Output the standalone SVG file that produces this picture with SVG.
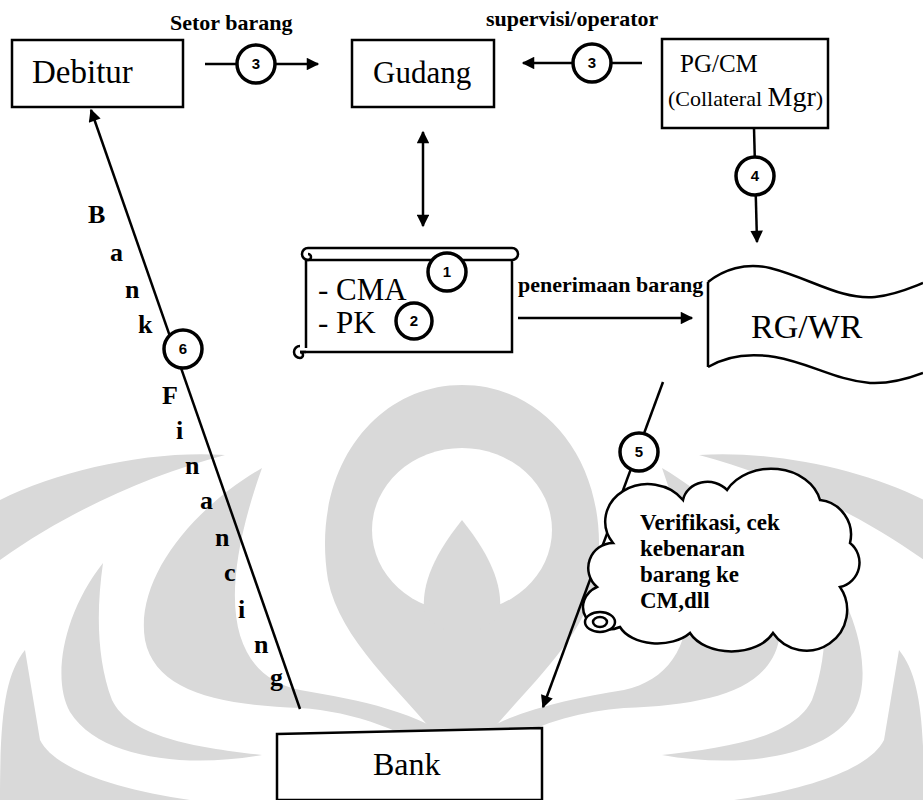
<svg xmlns="http://www.w3.org/2000/svg" width="923" height="800" viewBox="0 0 923 800">
<defs>
<marker id="ah" viewBox="0 0 10 10" refX="9" refY="5" markerWidth="5.5" markerHeight="5" orient="auto-start-reverse" markerUnits="strokeWidth">
<path d="M0,0 L10,5 L0,10 Z" fill="#000"/>
</marker>
<style>
.box{fill:#fff;stroke:#000;stroke-width:2.5}
.ln{fill:none;stroke:#000;stroke-width:2.5}
.circ{fill:#fff;stroke:#000;stroke-width:3.5}
.num{font-family:"Liberation Sans",Arial,sans-serif;font-weight:bold;font-size:15px;text-anchor:middle}
.lbl{font-family:"Liberation Serif","Times New Roman",serif;font-weight:bold}
.big{font-family:"Liberation Serif","Times New Roman",serif}
.let{font-family:"Liberation Serif","Times New Roman",serif;font-weight:bold;font-size:26px}
.wm{fill:#d9d9d9;stroke:none}
</style>
</defs>
<rect width="923" height="800" fill="#fff"/>
<g id="watermark">
<g id="wm-left">
<path class="wm" d="M262 468 C190 510 135 580 145 640 C155 690 215 705 300 708 C360 712 420 735 462 775 L462 745 C420 712 360 700 300 690 C230 675 215 600 262 468 Z"/>
<path class="wm" d="M103 563 C62 615 52 680 70 712 C100 760 190 768 262 755 C200 748 130 738 112 700 C97 660 96 612 103 563 Z"/>
<path class="wm" d="M25 650 C5 675 0 715 0 800 L190 800 C120 790 55 770 40 740 Z"/>
<path class="wm" d="M0 500 C60 470 150 450 225 455 C150 475 70 510 0 560 Z"/>
</g>
<use href="#wm-left" transform="translate(924,0) scale(-1,1)"/>
<path class="wm" d="M462 385 C375 385 310 470 328 580 C340 640 400 690 440 740 L462 770 L484 740 C524 690 584 640 596 580 C614 470 549 385 462 385 Z"/>
<ellipse cx="462" cy="530" rx="90" ry="82" fill="#fff"/>
<path class="wm" d="M462 520 C430 560 420 590 425 618 L462 640 L499 618 C504 590 494 560 462 520 Z"/>
</g>

<g id="connectors">
<line class="ln" x1="205" y1="64" x2="318" y2="64" marker-end="url(#ah)"/>
<line class="ln" x1="642" y1="63" x2="523" y2="63" marker-end="url(#ah)"/>
<line class="ln" x1="754" y1="128" x2="757" y2="242" marker-end="url(#ah)"/>
<line class="ln" x1="423" y1="132" x2="423" y2="226" marker-start="url(#ah)" marker-end="url(#ah)"/>
<line class="ln" x1="518" y1="318" x2="692" y2="318" marker-end="url(#ah)"/>
<line class="ln" x1="663" y1="382" x2="543" y2="707" marker-end="url(#ah)"/>
<line class="ln" x1="300" y1="709" x2="91" y2="110" marker-end="url(#ah)"/>
</g>

<g id="debitur">
<rect class="box" x="12" y="40" width="171" height="67"/>
<text class="big" x="32" y="83" style="font-size:33px">Debitur</text>
</g>
<g id="gudang">
<rect class="box" x="352" y="40" width="142" height="67"/>
<text class="big" x="373" y="83" style="font-size:31px">Gudang</text>
</g>
<g id="pgcm">
<rect class="box" x="662" y="39" width="166" height="89"/>
<text class="big" x="680" y="72" style="font-size:25px">PG/CM</text>
<text class="big" x="668" y="106" style="font-size:22px">(Collateral <tspan style="font-size:28px">Mgr</tspan>)</text>
</g>
<g id="scroll">
<path class="ln" d="M306 260 L306 348 M300 352 L512 352 L512 260 M308 248 L512 248 A6 6 0 0 1 512 260 L306 260"/>
<path class="ln" d="M308 248 A6 6 0 0 0 308 260 A3 3 0 0 0 308 254"/>
<path class="ln" d="M300 346 A6 6 0 0 0 300 358 A3 3 0 0 0 300 352 L306 352"/>
<text class="big" x="318" y="300" style="font-size:31px">- CMA</text>
<text class="big" x="318" y="333" style="font-size:31px">- PK</text>
</g>
<g id="rgwr">
<path class="ln" d="M708 282 C723 270 745 262 770 268 C810 278 840 300 875 297 C895 295 910 288 923 283"/>
<path class="ln" d="M708 367 C723 358 745 352 775 357 C810 363 835 380 870 383 C890 384 910 378 923 373"/>
<line class="ln" x1="708" y1="282" x2="708" y2="367"/>
<text class="big" x="751" y="338" style="font-size:34px">RG/WR</text>
</g>
<g id="cloud">
<path class="box" d="M613 543 A40 35 0 0 1 683 500 A25 22 0 0 1 727 490 A50 40 0 0 1 820 500 A35 35 0 0 1 850 543 A25 25 0 0 1 840 587 A35 35 0 0 1 773 633 A45 30 0 0 1 690 633 A40 25 0 0 1 620 627 A25 22 0 0 1 597 587 A25 25 0 0 1 613 543 Z"/>
<ellipse class="box" cx="600" cy="622" rx="15" ry="10"/>
<ellipse class="ln" cx="600" cy="622" rx="7" ry="5"/>
<text class="lbl" style="font-size:23px"><tspan x="640" y="530">Verifikasi, cek</tspan><tspan x="640" y="556">kebenaran</tspan><tspan x="640" y="582">barang ke</tspan><tspan x="640" y="608">CM,dll</tspan></text>
</g>
<g id="bank">
<path class="box" d="M277 734 L542 728 L542 800 L277 800 Z"/>
<text class="big" x="373" y="775" style="font-size:32px">Bank</text>
</g>

<g id="labels">
<text class="lbl" x="170" y="30" style="font-size:22px">Setor barang</text>
<text class="lbl" x="486" y="26" style="font-size:22px">supervisi/operator</text>
<text class="lbl" x="518" y="292" style="font-size:22px">penerimaan barang</text>
<text class="let" x="88" y="223">B</text>
<text class="let" x="110" y="261">a</text>
<text class="let" x="125" y="298">n</text>
<text class="let" x="138" y="333">k</text>
<text class="let" x="162" y="404">F</text>
<text class="let" x="176" y="439">i</text>
<text class="let" x="185" y="474">n</text>
<text class="let" x="200" y="509">a</text>
<text class="let" x="215" y="546">n</text>
<text class="let" x="224" y="581">c</text>
<text class="let" x="238" y="618">i</text>
<text class="let" x="254" y="653">n</text>
<text class="let" x="270" y="686">g</text>
</g>

<g id="n3a"><circle class="circ" cx="256" cy="64" r="19"/><text class="num" x="256" y="69">3</text></g>
<g id="n3b"><circle class="circ" cx="592" cy="63" r="19"/><text class="num" x="592" y="68">3</text></g>
<g id="n4"><circle class="circ" cx="755" cy="176" r="19"/><text class="num" x="755" y="181">4</text></g>
<g id="n1"><circle class="circ" cx="447" cy="272" r="19"/><text class="num" x="447" y="277">1</text></g>
<g id="n2"><circle class="circ" cx="414" cy="321" r="18"/><text class="num" x="414" y="326">2</text></g>
<g id="n5"><circle class="circ" cx="639" cy="452" r="19"/><text class="num" x="639" y="457">5</text></g>
<g id="n6"><circle class="circ" cx="183" cy="349" r="19"/><text class="num" x="183" y="354">6</text></g>
</svg>
